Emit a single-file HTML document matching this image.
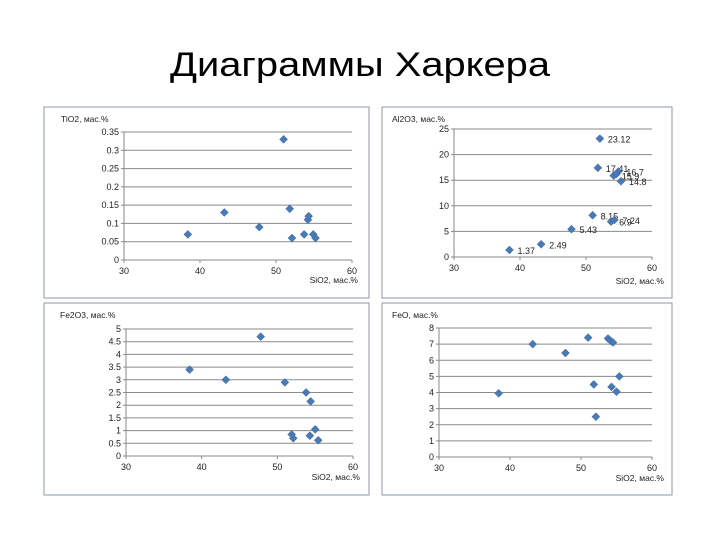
<!DOCTYPE html>
<html><head><meta charset="utf-8">
<style>
html,body{margin:0;padding:0;background:#fff;}
svg{display:block;font-family:"Liberation Sans","DejaVu Sans",sans-serif;}
</style></head>
<body>
<svg id="s" width="720" height="540" viewBox="0 0 720 540">
<text x="360" y="76" text-anchor="middle" font-size="34" textLength="380" lengthAdjust="spacingAndGlyphs" fill="#000">Диаграммы Харкера</text>
</svg>
<script>
// TiO2 chart data
const tiSi = [38.4, 43.2, 47.8, 51.0, 51.8, 52.1, 53.7, 54.2, 54.3, 54.9, 55.2];
const tiVal = [0.07, 0.13, 0.09, 0.33, 0.14, 0.06, 0.07, 0.11, 0.12, 0.07, 0.06];
const tiTicks = ["0","0.05","0.1","0.15","0.2","0.25","0.3","0.35"];
// Al2O3 chart data
const alSi = [38.4, 43.2, 47.8, 51.0, 51.8, 52.1, 53.8, 54.3, 54.2, 54.9, 54.6, 55.3];
const alVal = [1.37, 2.49, 5.43, 8.15, 17.41, 23.12, 6.9, 7.24, 15.9, 16.7, 16.2, 14.8];
const alLabels = ["1.37","2.49","5.43","8.15","17.41","23.12","6.9","7.24","15.9","16.7","","14.8"];
const alTicks = ["0","5","10","15","20","25"];
// Fe2O3 chart data
const feoSi = [38.4, 43.2, 47.8, 51.0, 53.8, 54.4, 51.9, 52.1, 55.0, 54.3, 55.4];
const fe2Val = [3.4, 3.0, 4.7, 2.9, 2.5, 2.15, 0.85, 0.7, 1.05, 0.8, 0.62];
const fe2Ticks = ["0","0.5","1","1.5","2","2.5","3","3.5","4","4.5","5"];
// FeO chart data
const feSi = [38.4, 43.2, 47.8, 51.0, 51.8, 52.1, 53.8, 54.2, 54.5, 54.3, 55.0, 55.4];
const feVal = [3.95, 7.0, 6.45, 7.4, 4.5, 2.5, 7.35, 7.2, 7.1, 4.35, 4.05, 5.0];
const feTicks = ["0","1","2","3","4","5","6","7","8"];
const xTicks = ["30","40","50","60"];

const NS = "http://www.w3.org/2000/svg";
const svg = document.getElementById('s');
function mk(tag, attrs, parent){
  const e = document.createElementNS(NS, tag);
  for (const k in attrs) e.setAttribute(k, attrs[k]);
  (parent||svg).appendChild(e);
  return e;
}
function chart(cfg){
  const g = mk('g', {});
  
  
  const box = mk('rect', {x:cfg.box[0], y:cfg.box[1], width:cfg.box[2], height:cfg.box[3], fill:'#fff', stroke:'#8c9aa6', 'stroke-width':1}, g);
  
  
  const L=cfg.L, R=cfg.R, T=cfg.T, B=cfg.B;
  const n = cfg.yTicks.length - 1;
  const ymax = cfg.ymax;
  const xs = v => L + (v - 30) / 30 * (R - L);
  const ys = v => B - v / ymax * (B - T);
  cfg.yTicks.forEach((t, i) => {
    const v = parseFloat(t);
    const y = ys(v);
    const gl = mk('line', {x1:L, x2:R, y1:y, y2:y, stroke:'#8a8a8a', 'stroke-width':1}, g);
    
    
    mk('line', {x1:L-3, x2:L, y1:y, y2:y, stroke:'#8a8a8a'}, g);
    const tx = mk('text', {x:L-5, y:y+3, 'text-anchor':'end', 'font-size':9, fill:'#222'}, g);
    tx.textContent = t;
    
    
  });
  const ax = mk('line', {x1:L, x2:L, y1:T, y2:B, stroke:'#8a8a8a'}, g);
  
  
  xTicks.forEach(t => {
    const x = xs(parseFloat(t));
    mk('line', {x1:x, x2:x, y1:B, y2:B+3, stroke:'#8a8a8a'}, g);
    const tx = mk('text', {x:x, y:B+14, 'text-anchor':'middle', 'font-size':9, fill:'#222'}, g);
    tx.textContent = t;
    
    
  });
  const yt = mk('text', {x:cfg.yt[0], y:cfg.yt[1], 'font-size':8.5, fill:'#222'}, g);
  yt.textContent = cfg.ytitle;
  
  
  const xt = mk('text', {x:cfg.xt[0], y:cfg.xt[1], 'text-anchor':'end', 'font-size':8.5, fill:'#222'}, g);
  xt.textContent = 'SiO2, мас.%';
  
  
  cfg.xv.forEach((sv, i) => {
    const cx = xs(sv), cy = ys(cfg.yv[i]);
    const p = mk('polygon', {points:`${cx},${cy-4} ${cx+4},${cy} ${cx},${cy+4} ${cx-4},${cy}`, fill:'#4a7ab5', stroke:'#3a659b', 'stroke-width':0.5}, g);
    
    
    if (cfg.labels && cfg.labels[i]) {
      const lb = mk('text', {x:cx+8, y:cy+4, 'font-size':9, fill:'#222'}, g);
      lb.textContent = cfg.labels[i];
      
      
    }
  });
}
chart({name:'tio2-chart', box:[44,107,325,191], L:124, R:352, T:132, B:260, ymax:0.35, yTicks:tiTicks, xv:tiSi, yv:tiVal, ytitle:'TiO2, мас.%', yt:[61,122], xt:[358,283]});
chart({name:'al2o3-chart', box:[382,107,290,191], L:454, R:652, T:129, B:257, ymax:25, yTicks:alTicks, xv:alSi, yv:alVal, labels:alLabels, ytitle:'Al2O3, мас.%', yt:[392,122], xt:[664,284]});
chart({name:'fe2o3-chart', box:[44,303,325,192], L:126, R:353, T:329, B:456, ymax:5, yTicks:fe2Ticks, xv:feoSi, yv:fe2Val, ytitle:'Fe2O3, мас.%', yt:[60,318], xt:[360,480]});
chart({name:'feo-chart', box:[382,303,290,192], L:439, R:652, T:328, B:457, ymax:8, yTicks:feTicks, xv:feSi, yv:feVal, ytitle:'FeO, мас.%', yt:[392,318], xt:[664,481]});
</script>
</body></html>
